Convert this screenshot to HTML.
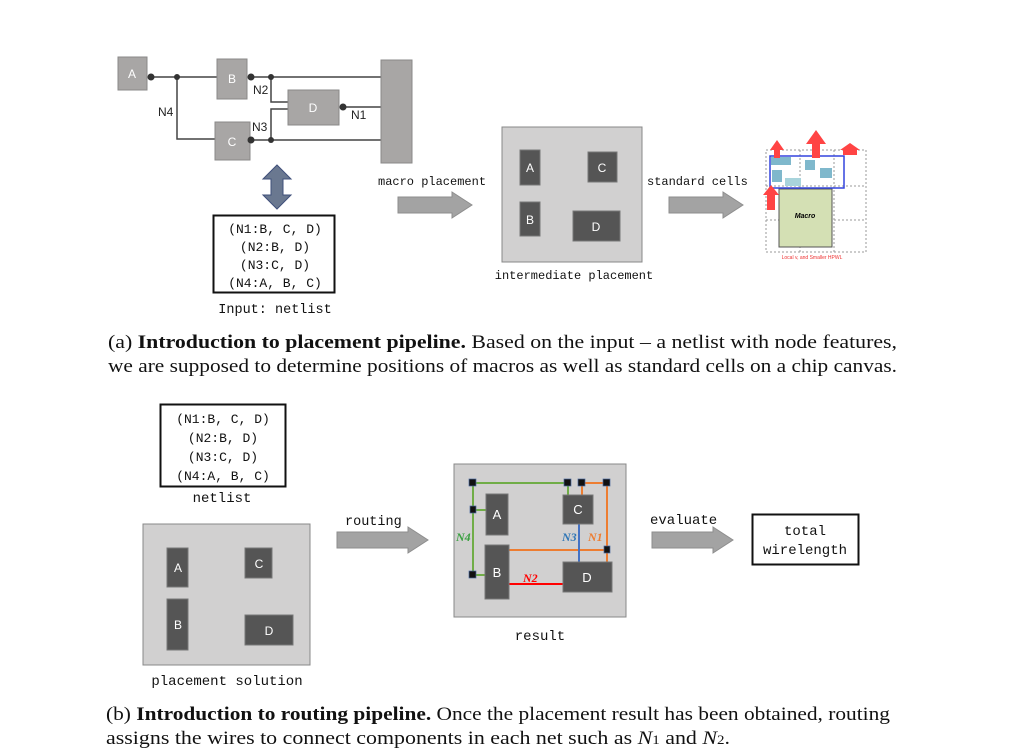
<!DOCTYPE html>
<html><head><meta charset="utf-8"><style>
html,body{margin:0;padding:0;background:#fff;}
svg{display:block;}
.m{font-family:"Liberation Mono",monospace;font-size:13px;fill:#111;}
.s{font-family:"Liberation Sans",sans-serif;}
.cap{font-family:"Liberation Serif",serif;font-size:19px;fill:#111;}
.gb{fill:#a8a6a5;stroke:#8a8888;stroke-width:1;}
.dk{fill:#555;stroke:#777;}
.wl{stroke:#444;stroke-width:1.5;fill:none;}
</style></head><body>
<svg width="1024" height="752" viewBox="0 0 1024 752">
<defs>
<g id="arr"><polygon points="0,-8 54,-8 54,-13 74,0 54,13 54,8 0,8" fill="#a3a3a3" stroke="#8e8e8e"/></g>
</defs>
<g>
<polyline class="wl" points="150,77 217,77"/>
<polyline class="wl" points="177,77 177,139 215,139"/>
<polyline class="wl" points="251,77 381,77"/>
<polyline class="wl" points="271,77 271,102 288,102"/>
<polyline class="wl" points="343,107 381,107"/>
<polyline class="wl" points="251,140 381,140"/>
<polyline class="wl" points="271,140 271,109 288,109"/>
<rect class="gb" x="118" y="57" width="29" height="33"/>
<rect class="gb" x="217" y="59" width="30" height="40"/>
<rect class="gb" x="215" y="122" width="35" height="38"/>
<rect class="gb" x="288" y="90" width="51" height="35"/>
<rect class="gb" x="381" y="60" width="31" height="103"/>
<g fill="#fff" class="s" font-size="12" text-anchor="middle">
<text x="132" y="78">A</text><text x="232" y="83">B</text><text x="232" y="146">C</text><text x="313" y="112">D</text></g>
<g fill="#333"><circle cx="151" cy="77" r="3.5"/><circle cx="177" cy="77" r="3"/><circle cx="251" cy="77" r="3.5"/><circle cx="271" cy="77" r="3"/><circle cx="343" cy="107" r="3.5"/><circle cx="251" cy="140" r="3.5"/><circle cx="271" cy="140" r="3"/></g>
<g class="s" font-size="12" fill="#222"><text x="158" y="116">N4</text><text x="253" y="94">N2</text><text x="252" y="131">N3</text><text x="351" y="119">N1</text></g>
</g>
<polygon points="277,165 291,179 283,179 283,195 291,195 277,209 263,195 271,195 271,179 263,179" fill="#6a7890" stroke="#3f4f7a"/>
<g>
<rect x="213.5" y="215.5" width="121" height="77" fill="#fff" stroke="#111" stroke-width="2"/>
<g class="m" text-anchor="middle"><text x="275" y="233">(N1:B, C, D)</text><text x="275" y="251">(N2:B, D)</text><text x="275" y="269">(N3:C, D)</text><text x="275" y="287">(N4:A, B, C)</text></g>
<text class="m" x="275" y="313" text-anchor="middle" style="font-size:13.5px">Input: netlist</text>
</g>
<text class="m" x="378" y="185" style="font-size:12px">macro placement</text>
<use href="#arr" x="398" y="205"/>
<g>
<rect x="502" y="127" width="140" height="135" fill="#d1d0d0" stroke="#888"/>
<rect class="dk" x="520" y="150" width="20" height="35"/><rect class="dk" x="520" y="202" width="20" height="34"/>
<rect class="dk" x="588" y="152" width="29" height="30" stroke="#3a5a9a"/><rect class="dk" x="573" y="211" width="47" height="30" stroke="#3a5a9a"/>
<g fill="#fff" class="s" font-size="12" text-anchor="middle"><text x="530" y="172">A</text><text x="530" y="224">B</text><text x="602" y="172">C</text><text x="596" y="231">D</text></g>
<text class="m" x="574" y="279" text-anchor="middle" style="font-size:12px">intermediate placement</text>
</g>
<text class="m" x="647" y="185" style="font-size:12px">standard cells</text>
<use href="#arr" x="669" y="205"/>
<g>
<rect x="766" y="150" width="100" height="102" fill="none" stroke="#999" stroke-dasharray="2,2"/>
<line x1="800" y1="150" x2="800" y2="252" stroke="#999" stroke-dasharray="2,2"/><line x1="834" y1="150" x2="834" y2="252" stroke="#999" stroke-dasharray="2,2"/>
<line x1="766" y1="186" x2="866" y2="186" stroke="#999" stroke-dasharray="2,2"/><line x1="766" y1="220" x2="866" y2="220" stroke="#999" stroke-dasharray="2,2"/>
<rect x="779" y="189" width="53" height="58" fill="#d4e0b4" stroke="#555"/>
<text x="805" y="218" font-size="7" font-weight="bold" font-style="italic" class="s" text-anchor="middle">Macro</text>
<rect x="770" y="156" width="74" height="32" fill="none" stroke="#3344dd" stroke-width="1.5"/>
<rect x="771" y="157" width="20" height="8" fill="#7fb8cc"/><rect x="805" y="160" width="10" height="10" fill="#7fb8cc"/><rect x="820" y="168" width="12" height="10" fill="#7fb8cc"/><rect x="772" y="170" width="10" height="12" fill="#7fb8cc"/><rect x="785" y="178" width="16" height="8" fill="#a8d4dc"/>
<polygon points="770,150 777,140 784,150 780,150 780,158 774,158 774,150" fill="#f44"/>
<polygon points="806,144 816,130 826,144 820,144 820,158 812,158 812,144" fill="#f44"/>
<polygon points="840,150 850,143 860,150" fill="#f44"/><rect x="843" y="150" width="14" height="5" fill="#f44"/>
<polygon points="763,195 771,185 779,195 775,195 775,210 767,210 767,195" fill="#f44"/>
<text x="812" y="259" font-size="5" class="s" fill="#e33" text-anchor="middle">Local v, and Smaller HPWL</text>
</g>
<g>
<text class="cap" x="108" y="348" textLength="789" lengthAdjust="spacingAndGlyphs">(a) <tspan font-weight="bold">Introduction to placement pipeline.</tspan> Based on the input – a netlist with node features,</text>
<text class="cap" x="108" y="372" textLength="789" lengthAdjust="spacingAndGlyphs">we are supposed to determine positions of macros as well as standard cells on a chip canvas.</text>
</g>
<g>
<rect x="160.5" y="404.5" width="125" height="82" fill="#fff" stroke="#111" stroke-width="2"/>
<g class="m" text-anchor="middle"><text x="223" y="423">(N1:B, C, D)</text><text x="223" y="442">(N2:B, D)</text><text x="223" y="461">(N3:C, D)</text><text x="223" y="480">(N4:A, B, C)</text></g>
<text class="m" x="222" y="502" text-anchor="middle" style="font-size:14px">netlist</text>
</g>
<g>
<rect x="143" y="524" width="167" height="141" fill="#d1d0d0" stroke="#888"/>
<rect class="dk" x="167" y="548" width="21" height="39"/><rect class="dk" x="167" y="599" width="21" height="51"/>
<rect class="dk" x="245" y="548" width="27" height="30" stroke="#3a5a9a"/><rect class="dk" x="245" y="615" width="48" height="30" stroke="#3a5a9a"/>
<g fill="#fff" class="s" font-size="12" text-anchor="middle"><text x="178" y="572">A</text><text x="178" y="629">B</text><text x="259" y="568">C</text><text x="269" y="635">D</text></g>
<text class="m" x="227" y="685" text-anchor="middle" style="font-size:14px">placement solution</text>
</g>
<text class="m" x="345" y="525" style="font-size:13.5px">routing</text>
<g><polygon points="337,532 408,532 408,527 428,540 408,553 408,548 337,548" fill="#a3a3a3" stroke="#8e8e8e"/></g>
<g>
<rect x="454" y="464" width="172" height="153" fill="#d1d0d0" stroke="#888"/>
<g fill="none" stroke-width="2">
<polyline stroke="#70ad47" points="568,495 568,483 473,483 473,575 485,575"/><line stroke="#70ad47" x1="473" y1="510" x2="486" y2="510"/>
<polyline stroke="#ed7d31" points="582,495 582,483 607,483 607,562"/><line stroke="#ed7d31" x1="509" y1="550" x2="607" y2="550"/>
<line stroke="#4472c4" x1="579" y1="524" x2="579" y2="562"/>
<line stroke="#f00" x1="509" y1="584" x2="563" y2="584"/>
</g>
<rect class="dk" x="486" y="494" width="22" height="41"/><rect class="dk" x="485" y="545" width="24" height="54"/>
<rect class="dk" x="563" y="495" width="30" height="29" stroke="#3a5a9a"/><rect class="dk" x="563" y="562" width="49" height="30" stroke="#3a5a9a"/>
<g fill="#fff" class="s" font-size="13" text-anchor="middle"><text x="497" y="519">A</text><text x="497" y="577">B</text><text x="578" y="514">C</text><text x="587" y="582">D</text></g>
<g fill="#111" stroke="#4a6aa0" stroke-width="0.7"><rect x="469" y="479" width="7" height="7"/><rect x="564" y="479" width="7" height="7"/><rect x="578" y="479" width="7" height="7"/><rect x="603" y="479" width="7" height="7"/><rect x="470" y="506" width="6" height="7"/><rect x="469" y="571" width="7" height="7"/><rect x="604" y="546" width="6" height="7"/></g>
<g font-family="Liberation Serif,serif" font-weight="bold" font-style="italic" font-size="12"><text x="456" y="541" fill="#3aa040">N4</text><text x="562" y="541" fill="#2e75b6">N3</text><text x="588" y="541" fill="#ed7d31">N1</text><text x="523" y="582" fill="#f00">N2</text></g>
<text class="m" x="540" y="640" text-anchor="middle" style="font-size:14px">result</text>
</g>
<text class="m" x="650" y="524" style="font-size:14px">evaluate</text>
<g><polygon points="652,532 713,532 713,527 733,540 713,553 713,548 652,548" fill="#a3a3a3" stroke="#8e8e8e"/></g>
<g>
<rect x="752.5" y="514.5" width="106" height="50" fill="#fff" stroke="#111" stroke-width="2"/>
<text class="m" x="805" y="535" text-anchor="middle" style="font-size:14px">total</text><text class="m" x="805" y="554" text-anchor="middle" style="font-size:14px">wirelength</text>
</g>
<g>
<text class="cap" x="106" y="720" textLength="784" lengthAdjust="spacingAndGlyphs">(b) <tspan font-weight="bold">Introduction to routing pipeline.</tspan> Once the placement result has been obtained, routing</text>
<text class="cap" x="106" y="744" textLength="624" lengthAdjust="spacingAndGlyphs">assigns the wires to connect components in each net such as <tspan font-style="italic">N</tspan><tspan font-size="13">1</tspan> and <tspan font-style="italic">N</tspan><tspan font-size="13">2</tspan>.</text>
</g>
</svg>
</body></html>
